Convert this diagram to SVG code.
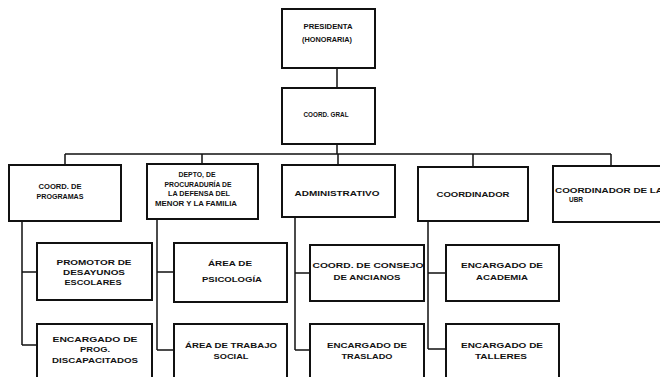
<svg xmlns="http://www.w3.org/2000/svg" width="660" height="377" viewBox="0 0 660 377">
<style>
.bg{fill:#ffffff}
.box{fill:#ffffff;stroke:#111111;stroke-width:2}
.ln{fill:none;stroke:#111111;stroke-width:1.5}
text{font-family:"Liberation Sans",Arial,sans-serif;font-size:8px;font-weight:bold;fill:#111111;text-anchor:middle}
</style>
<rect class="bg" x="0" y="0" width="660" height="377"/>
<g id="connectors">
<path class="ln" d="M337,68 V88 M337,144 V154 M65,154 H611 M65,154 V165 M202,154 V164 M338,154 V165 M473,154 V167 M611,154 V166"/>
<path class="ln" d="M22,221 V345 M22,272 H37 M22,345 H37"/>
<path class="ln" d="M157,219 V350 M157,272 H174 M157,350 H174"/>
<path class="ln" d="M295,217 V350 M295,273 H310 M295,350 H310"/>
<path class="ln" d="M428,221 V349 M428,273 H446 M428,349 H446"/>
</g>
<g id="n-presidenta">
<rect class="box" x="282" y="9" width="93" height="59"/>
<text x="328" y="29" textLength="49" lengthAdjust="spacingAndGlyphs">PRESIDENTA</text>
<text x="327" y="42" textLength="50" lengthAdjust="spacingAndGlyphs">(HONORARIA)</text>
</g>
<g id="n-coord-gral">
<rect class="box" x="282" y="88" width="93" height="56"/>
<text x="326" y="117" textLength="45" lengthAdjust="spacingAndGlyphs">COORD. GRAL</text>
</g>
<g id="n-coord-programas">
<rect class="box" x="9" y="165" width="112" height="56"/>
<text x="60" y="189" textLength="43" lengthAdjust="spacingAndGlyphs">COORD. DE</text>
<text x="60" y="199" textLength="47" lengthAdjust="spacingAndGlyphs">PROGRAMAS</text>
</g>
<g id="n-depto">
<rect class="box" x="147" y="164" width="111" height="55"/>
<text x="197" y="177" textLength="37" lengthAdjust="spacingAndGlyphs">DEPTO, DE</text>
<text x="198" y="187" textLength="67" lengthAdjust="spacingAndGlyphs">PROCURADURÍA DE</text>
<text x="199" y="196" textLength="62" lengthAdjust="spacingAndGlyphs">LA DEFENSA DEL</text>
<text x="196" y="206" textLength="82" lengthAdjust="spacingAndGlyphs">MENOR Y LA FAMILIA</text>
</g>
<g id="n-administrativo">
<rect class="box" x="282" y="165" width="113" height="52"/>
<text x="337" y="196" textLength="85" lengthAdjust="spacingAndGlyphs">ADMINISTRATIVO</text>
</g>
<g id="n-coordinador">
<rect class="box" x="418" y="167" width="110" height="54"/>
<text x="473" y="197" textLength="73" lengthAdjust="spacingAndGlyphs">COORDINADOR</text>
</g>
<g id="n-coord-ubr">
<rect class="box" x="553" y="166" width="130" height="56"/>
<text x="555" y="193" style="text-anchor:start" textLength="108" lengthAdjust="spacingAndGlyphs">COORDINADOR DE LA</text>
<text x="576" y="202" textLength="14" lengthAdjust="spacingAndGlyphs">UBR</text>
</g>
<g id="n-promotor">
<rect class="box" x="37" y="243" width="115" height="57"/>
<text x="94" y="265" textLength="75" lengthAdjust="spacingAndGlyphs">PROMOTOR DE</text>
<text x="94" y="275" textLength="62" lengthAdjust="spacingAndGlyphs">DESAYUNOS</text>
<text x="93" y="285" textLength="57" lengthAdjust="spacingAndGlyphs">ESCOLARES</text>
</g>
<g id="n-discapacitados">
<rect class="box" x="37" y="324" width="115" height="66"/>
<text x="95" y="342" textLength="85" lengthAdjust="spacingAndGlyphs">ENCARGADO DE</text>
<text x="95" y="352" textLength="30" lengthAdjust="spacingAndGlyphs">PROG.</text>
<text x="95" y="363" textLength="86" lengthAdjust="spacingAndGlyphs">DISCAPACITADOS</text>
</g>
<g id="n-psicologia">
<rect class="box" x="174" y="243" width="113" height="59"/>
<text x="230" y="266" textLength="44" lengthAdjust="spacingAndGlyphs">ÁREA DE</text>
<text x="232" y="282" textLength="60" lengthAdjust="spacingAndGlyphs">PSICOLOGÍA</text>
</g>
<g id="n-trabajo-social">
<rect class="box" x="174" y="324" width="113" height="66"/>
<text x="231" y="348" textLength="92" lengthAdjust="spacingAndGlyphs">ÁREA DE TRABAJO</text>
<text x="231" y="359" textLength="35" lengthAdjust="spacingAndGlyphs">SOCIAL</text>
</g>
<g id="n-consejo-ancianos">
<rect class="box" x="310" y="245" width="114" height="56"/>
<text x="368" y="268" textLength="111" lengthAdjust="spacingAndGlyphs">COORD. DE CONSEJO</text>
<text x="367" y="280" textLength="67" lengthAdjust="spacingAndGlyphs">DE ANCIANOS</text>
</g>
<g id="n-traslado">
<rect class="box" x="310" y="324" width="114" height="66"/>
<text x="367" y="348" textLength="80" lengthAdjust="spacingAndGlyphs">ENCARGADO DE</text>
<text x="367" y="359" textLength="51" lengthAdjust="spacingAndGlyphs">TRASLADO</text>
</g>
<g id="n-academia">
<rect class="box" x="446" y="245" width="113" height="56"/>
<text x="502" y="268" textLength="82" lengthAdjust="spacingAndGlyphs">ENCARGADO DE</text>
<text x="502" y="280" textLength="52" lengthAdjust="spacingAndGlyphs">ACADEMIA</text>
</g>
<g id="n-talleres">
<rect class="box" x="446" y="324" width="113" height="66"/>
<text x="502" y="348" textLength="82" lengthAdjust="spacingAndGlyphs">ENCARGADO DE</text>
<text x="501" y="359" textLength="52" lengthAdjust="spacingAndGlyphs">TALLERES</text>
</g>
</svg>
